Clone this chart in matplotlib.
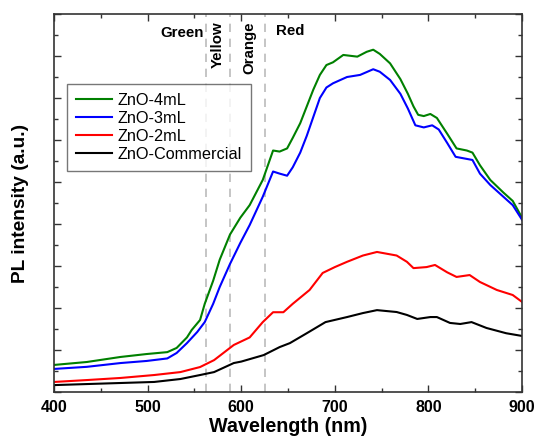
import matplotlib.pyplot as plt
from matplotlib.ticker import MultipleLocator, NullFormatter

plt.rcParams['font.family'] = ['Liberation Sans', 'DejaVu Sans']

# --- spectra (wavelength in nm, intensity in a.u.) ---
wl_4ml = [400, 435, 471, 499, 521, 531, 542, 547, 556, 561, 570, 577, 588, 599, 609,
          623, 634, 641, 649, 655, 663, 670, 677, 684, 691, 698, 709, 724, 734, 741,
          748, 759, 770, 778, 784, 789, 795, 802, 809, 820, 830, 841, 847, 855, 866,
          880, 890, 900]
pl_4ml = [1.29, 1.43, 1.67, 1.81, 1.9, 2.1, 2.6, 2.95, 3.43, 4.2, 5.3, 6.3, 7.5, 8.3, 8.9,
          10.1, 11.5, 11.45, 11.6, 12.1, 12.8, 13.6, 14.4, 15.1, 15.57, 15.7, 16.05, 15.97, 16.2, 16.3,
          16.1, 15.65, 14.9, 14.2, 13.6, 13.2, 13.14, 13.24, 13.05, 12.3, 11.6, 11.5, 11.4, 10.8, 10.1,
          9.5, 9.1, 8.3]

wl_3ml = [400, 435, 471, 499, 521, 531, 542, 553, 561, 570, 577, 588, 599, 609, 623,
          634, 641, 649, 655, 663, 670, 677, 684, 691, 698, 713, 727, 741, 748, 759,
          770, 778, 786, 795, 804, 811, 820, 829, 841, 847, 855, 866, 880, 890, 900]
pl_3ml = [1.1, 1.2, 1.38, 1.48, 1.6, 1.86, 2.33, 2.86, 3.33, 4.2, 5.0, 6.1, 7.1, 7.95, 9.3,
          10.5, 10.4, 10.3, 10.7, 11.4, 12.2, 13.1, 14.0, 14.5, 14.7, 15.0, 15.1, 15.37, 15.25, 14.86,
          14.2, 13.5, 12.7, 12.6, 12.7, 12.5, 11.86, 11.2, 11.1, 11.05, 10.4, 9.86, 9.3, 8.9, 8.2]

wl_2ml = [400, 435, 471, 507, 535, 556, 571, 592, 609, 623, 634, 645, 655, 673, 687,
          700, 713, 730, 745, 766, 777, 784, 798, 807, 820, 830, 844, 855, 873, 890,
          900]
pl_2ml = [0.48, 0.57, 0.67, 0.81, 0.95, 1.19, 1.52, 2.24, 2.6, 3.33, 3.8, 3.8, 4.2, 4.86, 5.67,
          5.95, 6.2, 6.5, 6.67, 6.5, 6.2, 5.9, 5.95, 6.05, 5.7, 5.48, 5.57, 5.24, 4.86, 4.62,
          4.29]

wl_com = [400, 435, 471, 507, 535, 556, 571, 592, 600, 624, 641, 652, 670, 690, 713,
          730, 745, 766, 777, 788, 802, 809, 823, 834, 846, 862, 883, 900]
pl_com = [0.33, 0.38, 0.43, 0.48, 0.62, 0.81, 0.95, 1.38, 1.45, 1.76, 2.14, 2.33, 2.8, 3.33, 3.57,
          3.76, 3.9, 3.81, 3.67, 3.48, 3.57, 3.57, 3.29, 3.24, 3.33, 3.05, 2.8, 2.67]

# colour region boundaries and labels
bounds = [562, 588, 625]
regions = ["Green", "Yellow", "Orange", "Red"]
region_x = [537, 575, 609, 652]
region_y = [17.1, 16.55, 16.4, 17.2]

fig = plt.figure(figsize=(5.37, 4.46), dpi=100)
ax = fig.add_axes([0.1006, 0.121, 0.8716, 0.8476])

for b in bounds:
    ax.axvline(b, color="#bbbbbb", lw=1.2, ls=(0, (5, 4)), zorder=1)

ax.plot(wl_4ml, pl_4ml, color="#008000", lw=1.5, label="ZnO-4mL")
ax.plot(wl_3ml, pl_3ml, color="#0000ff", lw=1.5, label="ZnO-3mL")
ax.plot(wl_2ml, pl_2ml, color="#ff0000", lw=1.5, label="ZnO-2mL")
ax.plot(wl_com, pl_com, color="#000000", lw=1.5, label="ZnO-Commercial")

for name, x, y in zip(regions, region_x, region_y):
    rot = 90 if name in ("Yellow", "Orange") else 0
    ax.text(x, y, name, ha="center", va="center", fontsize=10.8,
            fontweight="bold", rotation=rot)

ax.set_xlim(400, 900)
ax.set_ylim(0, 18)
ax.xaxis.set_major_locator(MultipleLocator(100))
ax.xaxis.set_minor_locator(MultipleLocator(50))
ax.yaxis.set_major_locator(MultipleLocator(2))
ax.yaxis.set_minor_locator(MultipleLocator(1))
ax.yaxis.set_major_formatter(NullFormatter())
ax.tick_params(which="both", direction="in", top=True, right=True, color="#333333", width=1)
ax.tick_params(which="major", length=5, labelsize=11.5, pad=6)
ax.tick_params(which="minor", length=3)
for lbl in ax.get_xticklabels():
    lbl.set_fontweight("bold")
for s in ax.spines.values():
    s.set_linewidth(1.2)
    s.set_color("#333333")

ax.set_xlabel("Wavelength (nm)", fontsize=14.2, fontweight="bold", labelpad=1)
ax.set_ylabel("PL intensity (a.u.)", fontsize=13.8, fontweight="bold", labelpad=12)

leg = ax.legend(loc="upper left", bbox_to_anchor=(0.0278, 0.815), borderaxespad=0,
                fontsize=11.7, frameon=True, fancybox=False, edgecolor="#555555",
                handlelength=2.2, labelspacing=0.18, borderpad=0.55, handletextpad=0.35)
leg.get_frame().set_linewidth(1.0)

fig.savefig("out.png", dpi=100)
